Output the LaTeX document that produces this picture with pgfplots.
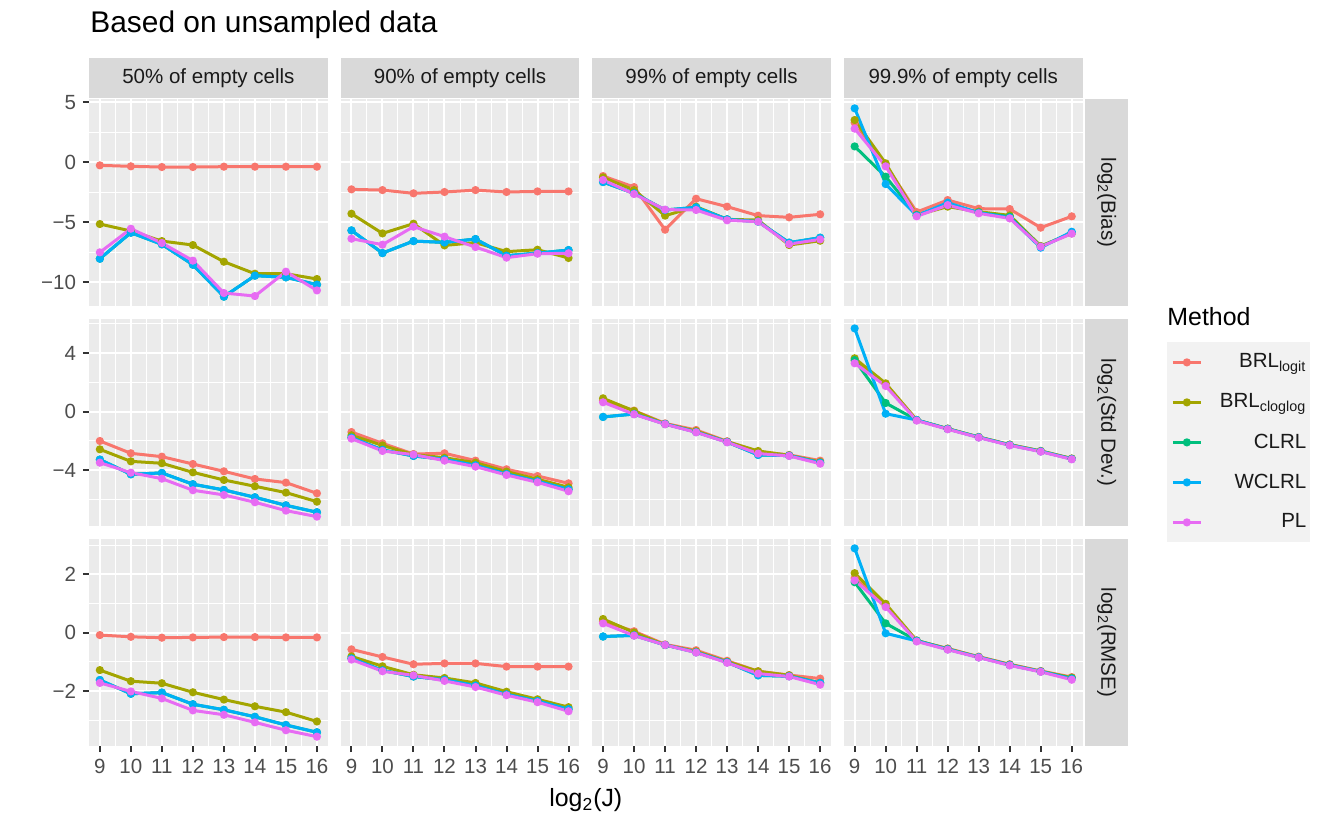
\documentclass[border=0pt]{standalone}
\usepackage{pgfplots}
\pgfplotsset{compat=1.18}
\usepackage{pgfplotstable}
\usepackage{fontspec}
\setmainfont{Liberation Sans}

\definecolor{c1}{HTML}{F8766D}
\definecolor{c2}{HTML}{A3A500}
\definecolor{c3}{HTML}{00BF7D}
\definecolor{c4}{HTML}{00B0F6}
\definecolor{c5}{HTML}{E76BF3}
\definecolor{panelbg}{HTML}{EBEBEB}
\definecolor{stripbg}{HTML}{D9D9D9}
\definecolor{keybg}{HTML}{F2F2F2}
\definecolor{labcol}{HTML}{4D4D4D}
\definecolor{tickcol}{HTML}{333333}
\definecolor{stripcol}{HTML}{1A1A1A}

% log2(Bias)
\pgfplotstableread{
J logit cloglog clrl wclrl pl
9 -0.25 -5.14 -8.03 -8.03 -7.50
10 -0.33 -5.72 -5.86 -5.86 -5.53
11 -0.39 -6.56 -6.83 -6.83 -6.72
12 -0.39 -6.89 -8.53 -8.53 -8.19
13 -0.36 -8.28 -11.19 -11.19 -10.89
14 -0.36 -9.28 -9.44 -9.44 -11.14
15 -0.36 -9.28 -9.58 -9.58 -9.11
16 -0.36 -9.72 -10.19 -10.19 -10.67
}\biasA
\pgfplotstableread{
J logit cloglog clrl wclrl pl
9 -2.25 -4.28 -5.67 -5.67 -6.36
10 -2.31 -5.92 -7.56 -7.56 -6.86
11 -2.58 -5.11 -6.56 -6.56 -5.36
12 -2.47 -6.92 -6.67 -6.67 -6.19
13 -2.31 -6.69 -6.39 -6.39 -7.06
14 -2.47 -7.44 -7.78 -7.78 -7.94
15 -2.42 -7.28 -7.56 -7.56 -7.61
16 -2.42 -7.97 -7.31 -7.31 -7.58
}\biasB
\pgfplotstableread{
J logit cloglog clrl wclrl pl
9 -1.14 -1.25 -1.64 -1.64 -1.47
10 -2.06 -2.31 -2.58 -2.58 -2.64
11 -5.61 -4.44 -3.97 -3.97 -3.94
12 -3.03 -3.69 -3.75 -3.75 -3.97
13 -3.69 -4.75 -4.75 -4.75 -4.83
14 -4.44 -4.81 -4.94 -4.94 -4.94
15 -4.58 -6.89 -6.69 -6.69 -6.81
16 -4.33 -6.53 -6.28 -6.28 -6.42
}\biasC
\pgfplotstableread{
J logit cloglog clrl wclrl pl
9 3.31 3.53 1.33 4.50 2.81
10 -0.22 -0.08 -1.19 -1.81 -0.33
11 -4.14 -4.39 -4.39 -4.44 -4.50
12 -3.14 -3.69 -3.56 -3.36 -3.56
13 -3.86 -4.11 -4.19 -4.19 -4.25
14 -3.89 -4.42 -4.53 -4.61 -4.67
15 -5.44 -6.97 -7.03 -7.11 -7.03
16 -4.50 -5.92 -5.86 -5.78 -5.94
}\biasD

% log2(Std Dev.)
\pgfplotstableread{
J logit cloglog clrl wclrl pl
9 -2.00 -2.57 -3.27 -3.27 -3.48
10 -2.84 -3.39 -4.27 -4.27 -4.16
11 -3.07 -3.52 -4.18 -4.18 -4.57
12 -3.57 -4.14 -4.95 -4.95 -5.36
13 -4.07 -4.66 -5.34 -5.34 -5.68
14 -4.59 -5.09 -5.84 -5.84 -6.18
15 -4.84 -5.52 -6.39 -6.39 -6.75
16 -5.57 -6.14 -6.86 -6.86 -7.16
}\sdA
\pgfplotstableread{
J logit cloglog clrl wclrl pl
9 -1.39 -1.61 -1.77 -1.77 -1.84
10 -2.16 -2.30 -2.61 -2.61 -2.68
11 -2.89 -2.93 -3.02 -3.02 -2.93
12 -2.84 -3.14 -3.25 -3.25 -3.34
13 -3.34 -3.48 -3.66 -3.66 -3.75
14 -3.93 -4.09 -4.25 -4.25 -4.32
15 -4.39 -4.61 -4.75 -4.75 -4.82
16 -4.89 -5.16 -5.30 -5.30 -5.43
}\sdB
\pgfplotstableread{
J logit cloglog clrl wclrl pl
9 0.75 0.91 -0.36 -0.36 0.64
10 0.07 0.05 -0.16 -0.16 -0.18
11 -0.80 -0.84 -0.84 -0.84 -0.86
12 -1.25 -1.32 -1.39 -1.39 -1.41
13 -2.02 -2.05 -2.07 -2.07 -2.09
14 -2.73 -2.68 -2.95 -2.95 -2.86
15 -2.95 -2.98 -3.00 -3.00 -3.02
16 -3.34 -3.43 -3.48 -3.48 -3.55
}\sdC
\pgfplotstableread{
J logit cloglog clrl wclrl pl
9 3.48 3.64 3.52 5.68 3.30
10 1.89 1.93 0.59 -0.14 1.75
11 -0.57 -0.57 -0.57 -0.57 -0.61
12 -1.16 -1.16 -1.17 -1.18 -1.20
13 -1.73 -1.73 -1.74 -1.75 -1.77
14 -2.25 -2.25 -2.27 -2.28 -2.30
15 -2.68 -2.68 -2.70 -2.71 -2.73
16 -3.20 -3.20 -3.22 -3.23 -3.25
}\sdD

% log2(RMSE)
\pgfplotstableread{
J logit cloglog clrl wclrl pl
9 -0.08 -1.28 -1.62 -1.62 -1.72
10 -0.14 -1.66 -2.09 -2.09 -2.01
11 -0.17 -1.73 -2.05 -2.05 -2.25
12 -0.16 -2.04 -2.45 -2.45 -2.66
13 -0.15 -2.29 -2.64 -2.64 -2.81
14 -0.15 -2.52 -2.88 -2.88 -3.07
15 -0.16 -2.72 -3.16 -3.16 -3.34
16 -0.16 -3.04 -3.41 -3.41 -3.56
}\rmseA
\pgfplotstableread{
J logit cloglog clrl wclrl pl
9 -0.57 -0.81 -0.88 -0.88 -0.92
10 -0.83 -1.15 -1.29 -1.29 -1.32
11 -1.08 -1.44 -1.50 -1.50 -1.46
12 -1.05 -1.55 -1.61 -1.61 -1.65
13 -1.05 -1.72 -1.81 -1.81 -1.86
14 -1.16 -2.02 -2.11 -2.11 -2.14
15 -1.16 -2.28 -2.34 -2.34 -2.38
16 -1.16 -2.55 -2.62 -2.62 -2.69
}\rmseB
\pgfplotstableread{
J logit cloglog clrl wclrl pl
9 0.39 0.47 -0.13 -0.13 0.32
10 0.05 0.01 -0.09 -0.09 -0.10
11 -0.40 -0.42 -0.42 -0.42 -0.42
12 -0.60 -0.64 -0.67 -0.67 -0.68
13 -0.96 -0.99 -1.01 -1.01 -1.03
14 -1.32 -1.32 -1.46 -1.46 -1.40
15 -1.45 -1.46 -1.49 -1.49 -1.50
16 -1.57 -1.72 -1.72 -1.72 -1.78
}\rmseC
\pgfplotstableread{
J logit cloglog clrl wclrl pl
9 1.87 2.04 1.73 2.89 1.79
10 0.92 0.99 0.32 -0.02 0.88
11 -0.27 -0.27 -0.27 -0.28 -0.30
12 -0.54 -0.55 -0.56 -0.57 -0.58
13 -0.82 -0.83 -0.84 -0.84 -0.85
14 -1.08 -1.09 -1.10 -1.11 -1.12
15 -1.31 -1.32 -1.33 -1.33 -1.34
16 -1.52 -1.54 -1.56 -1.58 -1.61
}\rmseD

\newcommand\smallfont{\fontsize{10.3}{12}\selectfont}
\newcommand\midfont{\fontsize{12.5}{15}\selectfont}

\pgfplotsset{
  facet/.style={
    scale only axis, width=119.4bp, height=103.5bp,
    anchor=north west,
    xmin=8.65, xmax=16.35,
    xtick={9,...,16}, minor xtick={9.5,10.5,...,15.5},
    grid=both,
    major grid style={white, line width=1bp},
    minor grid style={white, line width=0.5bp},
    axis line style={draw=none},
    axis background/.style={fill=panelbg},
    tick align=outside, xtick pos=bottom, ytick pos=left,
    major tick length=3bp, minor tick length=0pt,
    minor tick style={draw=none},
    xticklabels={}, yticklabels={},
    xtick style={draw=none}, ytick style={draw=none},
    tick label style={font=\smallfont, text=labcol},
    legend image code/.code={\draw[mark repeat=2,mark phase=2,##1] plot coordinates {(0bp,0bp) (7bp,0bp) (14bp,0bp)};},
  },
  rowB/.style={ymin=-11.97, ymax=5.28, ytick={-10,-5,0,5}, minor ytick={-7.5,-2.5,2.5}},
  rowS/.style={ymin=-7.80, ymax=6.32, ytick={-4,0,4}, minor ytick={-6,-2,2,6}},
  rowR/.style={ymin=-3.88, ymax=3.21, ytick={-2,0,2}, minor ytick={-3,-1,1,3}},
  leftcol/.style={ytick style={draw=tickcol, line width=1bp}},
  bottomrow/.style={xtick style={draw=tickcol, line width=1bp}, xticklabels={9,10,11,12,13,14,15,16}},
  s1/.style={color=c1, line width=1.5bp, mark=*, mark size=1.25bp},
  s2/.style={color=c2, line width=1.5bp, mark=*, mark size=1.25bp},
  s3/.style={color=c3, line width=1.5bp, mark=*, mark size=1.25bp},
  s4/.style={color=c4, line width=1.5bp, mark=*, mark size=1.25bp},
  s5/.style={color=c5, line width=1.5bp, mark=*, mark size=1.25bp},
}

% #1 table, #2 left (bp), #3 top (bp), #4 options, #5 extra
\newcommand\panel[5]{%
\begin{axis}[facet, at={(#2bp,#3bp)}, #4]
\addplot[s1] table[x=J, y=logit] {#1};
\addplot[s2] table[x=J, y=cloglog] {#1};
\addplot[s3] table[x=J, y=clrl] {#1};
\addplot[s4] table[x=J, y=wclrl] {#1};
\addplot[s5] table[x=J, y=pl] {#1};
#5
\end{axis}}

\begin{document}
\begin{tikzpicture}
\path[use as bounding box] (0bp,0bp) rectangle (664.5bp,-415bp);

% title
\node[anchor=west, font=\fontsize{15}{18}\selectfont, inner sep=0pt] at (45bp,-12.5bp) {Based on unsampled data};

% column strips
\foreach \xl/\lab in {44.5/50\% of empty cells, 170.3/90\% of empty cells, 296.1/99\% of empty cells, 421.9/99.9\% of empty cells}{
  \fill[stripbg] (\xl bp,-29bp) rectangle ++(119.4bp,-20bp);
  \node[font=\smallfont, text=stripcol] at ({\xl bp+59.7bp},-39.3bp) {\lab};
}
% row strips
\foreach \yt/\lab in {-49.5/Bias, -159.5/Std Dev., -269.5/RMSE}{
  \fill[stripbg] (542.5bp,\yt bp) rectangle (564bp,{\yt bp-103.5bp});
  \node[font=\smallfont, text=stripcol, rotate=-90] at (553.3bp,{\yt bp-51.75bp}) {log\textsubscript{2}(\lab)};
}

\panel{\biasA}{44.5}{-49.5}{rowB, leftcol, yticklabels={−10,−5,0,5}}{}
\panel{\biasB}{170.3}{-49.5}{rowB}{}
\panel{\biasC}{296.1}{-49.5}{rowB}{}
\panel{\biasD}{421.9}{-49.5}{rowB}{}

\panel{\sdA}{44.5}{-159.5}{rowS, leftcol, yticklabels={−4,0,4}}{}
\panel{\sdB}{170.3}{-159.5}{rowS}{}
\panel{\sdC}{296.1}{-159.5}{rowS}{}
\panel{\sdD}{421.9}{-159.5}{rowS,
  legend style={at={(1.3534,0.889)}, anchor=north west, fill=keybg, draw=none,
    inner xsep=2bp, inner ysep=0bp, column sep=4bp, row sep=0pt,
    nodes={inner sep=0pt, minimum height=20bp, font=\smallfont, text=stripcol}}}
  {\legend{\makebox[48bp][r]{BRL\textsubscript{logit}},
           \makebox[48bp][r]{BRL\textsubscript{cloglog}},
           \makebox[48bp][r]{CLRL},
           \makebox[48bp][r]{WCLRL},
           \makebox[48bp][r]{PL}}}

\panel{\rmseA}{44.5}{-269.5}{rowR, leftcol, bottomrow, yticklabels={−2,0,2}}{}
\panel{\rmseB}{170.3}{-269.5}{rowR, bottomrow}{}
\panel{\rmseC}{296.1}{-269.5}{rowR, bottomrow}{}
\panel{\rmseD}{421.9}{-269.5}{rowR, bottomrow}{}

% legend title and x label
\node[anchor=west, font=\midfont, inner sep=0pt] at (583.5bp,-158.5bp) {Method};
\node[font=\midfont, inner sep=0pt] at (292.9bp,-400bp) {log\textsubscript{2}(J)};
\end{tikzpicture}
\end{document}
